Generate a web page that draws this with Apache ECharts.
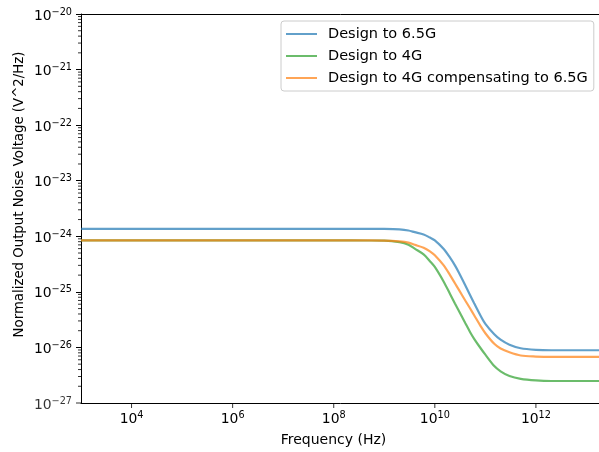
<!DOCTYPE html>
<html>
<head>
<meta charset="utf-8">
<script src="https://cdn.jsdelivr.net/npm/echarts@6/dist/echarts.min.js"></script>
<style>
html,body{margin:0;padding:0;background:#fff;}
#chart{width:599px;height:452px;}
</style>
</head>
<body>
<div id="chart"></div>
<script>
// Frequencies (Hz) at which the curves were read
const freqHz = [1e3, 1e6, 1e8, 5e8, 1e9, 2e9, 3e9, 4e9, 6e9, 8e9, 1e10, 1.5e10, 2e10, 2.5e10, 3e10, 4e10, 5e10, 6e10, 8e10, 1e11, 1.5e11, 2e11, 3e11, 5e11, 1e12, 2e12, 1e14];
// Normalized output noise voltage (V^2/Hz)
const design65G = [1.36e-24, 1.36e-24, 1.36e-24, 1.36e-24, 1.355e-24, 1.327e-24, 1.27e-24, 1.186e-24, 1.08e-24, 9.48e-25, 8.45e-25, 5.90e-25, 4.12e-25, 2.99e-25, 2.21e-25, 1.318e-25, 8.71e-26, 6.24e-26, 3.76e-26, 2.66e-26, 1.73e-26, 1.38e-26, 1.12e-26, 9.66e-27, 9.05e-27, 8.90e-27, 8.90e-27];
const design4G = [8.41e-25, 8.41e-25, 8.41e-25, 8.40e-25, 8.34e-25, 7.83e-25, 7.06e-25, 6.00e-25, 4.73e-25, 3.57e-25, 2.81e-25, 1.524e-25, 9.18e-26, 6.17e-26, 4.52e-26, 2.75e-26, 1.88e-26, 1.43e-26, 9.77e-27, 7.41e-27, 4.62e-27, 3.72e-27, 3.05e-27, 2.72e-27, 2.55e-27, 2.49e-27, 2.49e-27];
const design4GComp = [8.41e-25, 8.41e-25, 8.41e-25, 8.41e-25, 8.37e-25, 8.07e-25, 7.67e-25, 7.03e-25, 6.24e-25, 5.37e-25, 4.55e-25, 2.99e-25, 2.00e-25, 1.43e-25, 1.084e-25, 7.00e-26, 5.01e-26, 3.80e-26, 2.45e-26, 1.80e-26, 1.16e-26, 9.55e-27, 8.18e-27, 7.16e-27, 6.85e-27, 6.74e-27, 6.74e-27];

const seriesNames = ['Design to 6.5G', 'Design to 4G', 'Design to 4G compensating to 6.5G'];
const seriesColors = ['#1f77b4', '#2ca02c', '#ff7f0e'];

// Axis ranges and ticks
const xMin = 1e3, xMax = 1e14;
const yMin = 1e-27, yMax = 1e-20;
const xMajorTicks = [1e4, 1e6, 1e8, 1e10, 1e12];
const yDecades = [-27, -26, -25, -24, -23, -22, -21];
const yMinorMultipliers = [2, 3, 4, 5, 6, 7, 8, 9];
const yMinorTicks = [];
yDecades.forEach(d => yMinorMultipliers.forEach(m => yMinorTicks.push(m * Math.pow(10, d))));

const FONT = 'DejaVu Sans';
const MINUS = '\u2212';
function powLabel(v, fallback) {
  const e = v > 0 ? Math.round(Math.log10(v)) : Math.round(Math.log10(fallback));
  return '{b|10}{s|' + (e < 0 ? MINUS + (-e) : e) + '}';
}
const richLabel = {
  b: { fontFamily: FONT, fontSize: 13.9, color: '#000' },
  s: { fontFamily: FONT, fontSize: 9.7, color: '#000', padding: [0, 0, 8, 0] }
};

const chart = echarts.init(document.getElementById('chart'), null, { renderer: 'canvas' });

const lineSeries = seriesNames.map((name, i) => {
  const vals = [design65G, design4G, design4GComp][i];
  return {
    name: name,
    type: 'line',
    data: freqHz.map((f, j) => [f, vals[j]]),
    symbol: 'none',
    showSymbol: false,
    smooth: 0.3,
    color: seriesColors[i],
    lineStyle: { width: 2.2, color: seriesColors[i], opacity: 0.7 },
    itemStyle: { color: seriesColors[i], opacity: 0.7 },
    z: 3 + i
  };
});

const option = {
  animation: false,
  backgroundColor: '#fff',
  grid: {
    left: 81, top: 14, width: 556, height: 389,
    containLabel: false,
    outerBoundsMode: 'none',
    show: false
  },
  legend: {
    data: seriesNames,
    orient: 'vertical',
    left: 281, top: 21,
    padding: [5, 6, 5, 5],
    itemGap: 6,
    itemWidth: 31,
    itemHeight: 2,
    icon: 'rect',
    backgroundColor: 'rgba(255,255,255,0.8)',
    borderColor: '#cccccc',
    borderWidth: 1,
    borderRadius: 3,
    textStyle: { fontFamily: FONT, fontSize: 14.5, color: '#000', lineHeight: 16, padding: [0, 0, 0, 6] }
  },
  xAxis: [{
    type: 'log',
    logBase: 10,
    min: xMin, max: xMax,
    interval: 1,
    name: 'Frequency (Hz)',
    nameLocation: 'middle',
    nameGap: 30,
    nameMoveOverlap: false,
    nameTextStyle: { fontFamily: FONT, fontSize: 14, color: '#000', padding: [0, 51, 0, 0] },
    axisLine: { show: true, lineStyle: { color: '#000', width: 1 } },
    axisTick: { show: false },
    splitLine: { show: false },
    axisLabel: {
      margin: 7,
      showMinLabel: true,
      showMaxLabel: true,
      formatter: function (v) {
        const e = v > 0 ? Math.round(Math.log10(v)) : 3;
        return (e % 2 === 0) ? powLabel(v, xMin) : '';
      },
      rich: richLabel
    }
  }, {
    type: 'log',
    logBase: 10,
    position: 'top',
    min: xMin, max: xMax,
    axisLine: { show: true, lineStyle: { color: '#000', width: 1 } },
    axisTick: { show: false },
    axisLabel: { show: false },
    splitLine: { show: false }
  }],
  yAxis: {
    type: 'log',
    logBase: 10,
    min: yMin, max: yMax,
    interval: 1,
    name: 'Normalized Output Noise Voltage (V^2/Hz)',
    nameLocation: 'middle',
    nameRotate: 90,
    nameGap: 55,
    nameMoveOverlap: false,
    nameTextStyle: { fontFamily: FONT, fontSize: 13.3, color: '#000', padding: [0, 0, 0, 28] },
    axisLine: { show: true, lineStyle: { color: '#000', width: 1 } },
    axisTick: { show: true, length: 5, lineStyle: { color: '#000', width: 1 } },
    splitLine: { show: false },
    axisLabel: {
      margin: 9,
      padding: [4, 0, 0, 0],
      showMinLabel: true,
      showMaxLabel: true,
      hideOverlap: false,
      formatter: function (v) { return powLabel(v, yMin); },
      rich: richLabel
    }
  },
  series: lineSeries.concat([
    {
      type: 'scatter',
      name: 'xticks',
      silent: true,
      clip: false,
      z: 10,
      symbol: 'rect',
      symbolSize: [1, 5],
      symbolOffset: [0, 2.5],
      itemStyle: { color: '#000' },
      data: xMajorTicks.map(t => [t, yMin])
    },
    {
      type: 'scatter',
      name: 'yminor',
      silent: true,
      clip: false,
      z: 10,
      symbol: 'rect',
      symbolSize: [3, 1],
      symbolOffset: [-1.5, 0],
      itemStyle: { color: '#000' },
      data: yMinorTicks.map(t => [xMin, t])
    },
    {
      // bottom y tick label (10^-27), placed through the axis scale
      type: 'scatter',
      name: 'yminlabel',
      silent: true,
      clip: false,
      z: 10,
      symbol: 'rect',
      symbolSize: [5, 1],
      symbolOffset: [-2.5, 0],
      itemStyle: { color: '#000' },
      label: {
        show: true,
        position: 'left',
        distance: 4,
        padding: [4, 0, 0, 0],
        formatter: function () { return powLabel(yMin, yMin); },
        rich: richLabel
      },
      data: [[xMin, yMin]]
    }
  ])
};
chart.setOption(option);
</script>
</body>
</html>
